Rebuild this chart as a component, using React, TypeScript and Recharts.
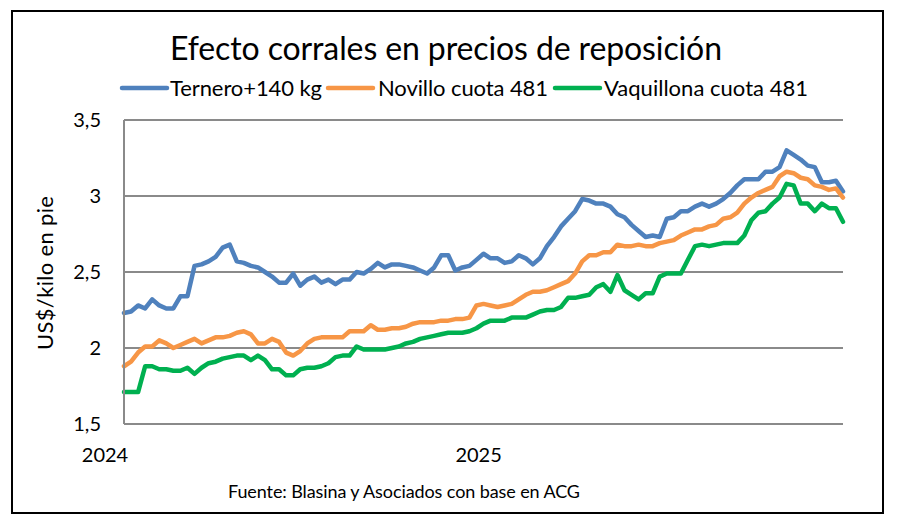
import React from "react";
import { LineChart, Line, XAxis, YAxis, CartesianGrid } from "recharts";

// weekly prices, US$/kg live weight, Jan 2024 -> Nov 2025
const ternero = [
  2.23, 2.24, 2.28, 2.26, 2.32, 2.28, 2.26, 2.26, 2.34, 2.34,
  2.54, 2.55, 2.57, 2.6, 2.66, 2.68, 2.57, 2.56, 2.54, 2.53,
  2.5, 2.47, 2.43, 2.43, 2.49, 2.41, 2.45, 2.47, 2.43, 2.45,
  2.42, 2.45, 2.45, 2.5, 2.49, 2.52, 2.56, 2.53, 2.55, 2.55,
  2.54, 2.53, 2.51, 2.49, 2.53, 2.61, 2.61, 2.51, 2.53, 2.54,
  2.58, 2.62, 2.59, 2.59, 2.56, 2.57, 2.61, 2.59, 2.55, 2.59,
  2.67, 2.73, 2.8, 2.85, 2.9, 2.98, 2.97, 2.95, 2.95, 2.93,
  2.88, 2.86, 2.81, 2.77, 2.73, 2.74, 2.73, 2.85, 2.86, 2.9,
  2.9, 2.93, 2.95, 2.93, 2.95, 2.98, 3.02, 3.07, 3.11, 3.11,
  3.11, 3.16, 3.16, 3.19, 3.3, 3.27, 3.24, 3.2, 3.19, 3.09,
  3.09, 3.1, 3.03,
];

const novillo = [
  1.88, 1.91, 1.97, 2.01, 2.01, 2.05, 2.03, 2.0, 2.02, 2.04,
  2.06, 2.03, 2.05, 2.07, 2.07, 2.08, 2.1, 2.11, 2.09, 2.03,
  2.03, 2.06, 2.04, 1.97, 1.95, 1.98, 2.03, 2.06, 2.07, 2.07,
  2.07, 2.07, 2.11, 2.11, 2.11, 2.15, 2.12, 2.12, 2.13, 2.13,
  2.14, 2.16, 2.17, 2.17, 2.17, 2.18, 2.18, 2.19, 2.19, 2.2,
  2.28, 2.29, 2.28, 2.27, 2.28, 2.29, 2.32, 2.35, 2.37, 2.37,
  2.38, 2.4, 2.42, 2.44, 2.49, 2.57, 2.61, 2.61, 2.63, 2.63,
  2.68, 2.67, 2.67, 2.68, 2.67, 2.67, 2.69, 2.7, 2.71, 2.74,
  2.76, 2.78, 2.78, 2.8, 2.81, 2.85, 2.86, 2.89, 2.95, 2.99,
  3.02, 3.04, 3.06, 3.13, 3.16, 3.15, 3.12, 3.11, 3.07, 3.06,
  3.04, 3.05, 2.99,
];

const vaquillona = [
  1.71, 1.71, 1.71, 1.88, 1.88, 1.86, 1.86, 1.85, 1.85, 1.87,
  1.83, 1.87, 1.9, 1.91, 1.93, 1.94, 1.95, 1.95, 1.92, 1.95,
  1.92, 1.86, 1.86, 1.82, 1.82, 1.86, 1.87, 1.87, 1.88, 1.9,
  1.94, 1.95, 1.95, 2.01, 1.99, 1.99, 1.99, 1.99, 2.0, 2.01,
  2.03, 2.04, 2.06, 2.07, 2.08, 2.09, 2.1, 2.1, 2.1, 2.11,
  2.13, 2.16, 2.18, 2.18, 2.18, 2.2, 2.2, 2.2, 2.22, 2.24,
  2.25, 2.25, 2.27, 2.33, 2.33, 2.34, 2.35, 2.4, 2.42, 2.37,
  2.48, 2.38, 2.35, 2.32, 2.36, 2.36, 2.47, 2.49, 2.49, 2.49,
  2.58, 2.67, 2.68, 2.67, 2.68, 2.69, 2.69, 2.69, 2.74, 2.84,
  2.89, 2.9, 2.95, 2.99, 3.08, 3.07, 2.95, 2.95, 2.9, 2.95,
  2.92, 2.92, 2.83,
];

// x ticks: week index of each year label
const yearTicks = [0, 53];
const yearLabels = ["2024", "2025"];
const yTicks = [1.5, 2, 2.5, 3, 3.5];

const series = [
  { key: "ternero", name: "Ternero+140 kg", color: "#4F81BD" },
  { key: "novillo", name: "Novillo cuota 481", color: "#F79646" },
  { key: "vaquillona", name: "Vaquillona cuota 481", color: "#00B050" },
];

// legend placement (line start x, text x, text width)
const legendLayout = [
  { lineX: 122, textX: 170, textW: 152 },
  { lineX: 328, textX: 378, textW: 170 },
  { lineX: 555, textX: 604, textW: 204 },
];

const data = ternero.map((v, i) => ({
  week: i,
  ternero: v,
  novillo: novillo[i],
  vaquillona: vaquillona[i],
}));

const FONT = "Lato, 'Noto Sans', sans-serif";
const GRID = "#8a8a8a";

const YearTick = (props: any) => {
  const { x, y, payload } = props;
  const idx = yearTicks.indexOf(payload.value);
  return (
    <text x={x - 19} y={y + 36} textAnchor="middle" fontSize={20} fill="#000" fontFamily={FONT}>
      {yearLabels[idx] ?? ""}
    </text>
  );
};

export default function App() {
  return (
    <div style={{ position: "absolute", left: 0, top: 0, width: 898, height: 523, background: "#fff", fontFamily: FONT }}>
      <div
        style={{
          position: "absolute",
          left: 11,
          top: 10,
          width: 873,
          height: 504,
          boxSizing: "border-box",
          border: "2px solid #000",
        }}
      />
      <LineChart
        width={898}
        height={523}
        data={data}
        margin={{ top: 120, right: 55, bottom: 0, left: 0 }}
        style={{ position: "absolute", left: 0, top: 0 }}
      >
        <CartesianGrid vertical={false} stroke={GRID} strokeWidth={2} />
        <XAxis
          dataKey="week"
          type="number"
          domain={[0, ternero.length - 1]}
          ticks={yearTicks}
          interval={0}
          height={99}
          axisLine={false}
          tickLine={false}
          tickSize={0}
          tick={<YearTick />}
        />
        <YAxis
          type="number"
          domain={[1.5, 3.5]}
          ticks={yTicks}
          interval={0}
          width={124}
          axisLine={{ stroke: GRID, strokeWidth: 2 }}
          tickLine={false}
          tickSize={0}
          tickMargin={23}
          tick={{ fontSize: 20, fill: "#000", fontFamily: FONT }}
          tickFormatter={(v: number) => String(v).replace(".", ",")}
        />
        {series.map((s) => (
          <Line
            key={s.key}
            type="linear"
            dataKey={s.key}
            name={s.name}
            stroke={s.color}
            strokeWidth={4.5}
            strokeLinejoin="round"
            strokeLinecap="round"
            dot={false}
            activeDot={false}
            isAnimationActive={false}
          />
        ))}
      </LineChart>
      <svg width={898} height={523} style={{ position: "absolute", left: 0, top: 0, pointerEvents: "none" }}>
        <text x={170} y={60} fontSize={32} fill="#000" fontFamily={FONT} textLength={552}>
          Efecto corrales en precios de reposición
        </text>
        {series.map((s, i) => {
          const l = legendLayout[i];
          return (
            <g key={s.key}>
              <line x1={l.lineX} y1={88} x2={l.lineX + 45} y2={88} stroke={s.color} strokeWidth={4.5} strokeLinecap="round" />
              <text x={l.textX} y={96} fontSize={22} fill="#000" fontFamily={FONT} textLength={l.textW}>
                {s.name}
              </text>
            </g>
          );
        })}
        <text
          x={0}
          y={0}
          transform="translate(53,273) rotate(-90)"
          textAnchor="middle"
          fontSize={22}
          fill="#000"
          fontFamily={FONT}
          textLength={154}
        >
          US$/kilo en pie
        </text>
        <text x={228} y={498} fontSize={18} fill="#000" fontFamily={FONT} textLength={352}>
          Fuente: Blasina y Asociados con base en ACG
        </text>
      </svg>
    </div>
  );
}
